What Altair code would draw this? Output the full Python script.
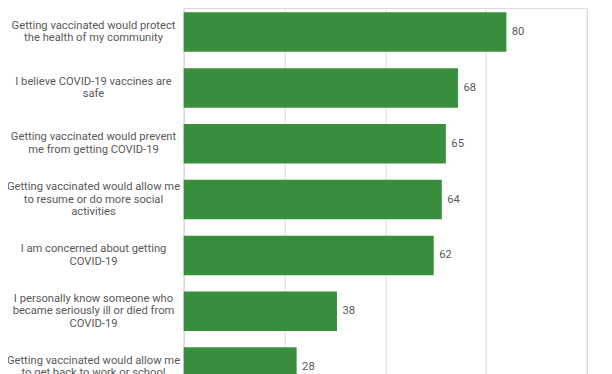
import altair as alt
import pandas as pd

categories = [
    "Getting vaccinated would protect|the health of my community",
    "I believe COVID-19 vaccines are|safe",
    "Getting vaccinated would prevent|me from getting COVID-19",
    "Getting vaccinated would allow me|to resume or do more social|activities",
    "I am concerned about getting|COVID-19",
    "I personally know someone who|became seriously ill or died from|COVID-19",
    "Getting vaccinated would allow me|to get back to work or school",
]
values = [80, 68, 65, 64, 62, 38, 28]
grid_ticks = [0, 25, 50, 75, 100]

df = pd.DataFrame({"reason": categories, "pct": values})

GREEN = "#388e3c"
GRAY_TEXT = "#595959"
GRID = "#d9d9d9"
LINE_H = 12.6

n_lines = "length(split(datum.label, '|'))"

y_enc = alt.Y(
    "reason:N",
    sort=categories,
    title=None,
    scale=alt.Scale(paddingInner=0.2925, paddingOuter=0.077),
    axis=alt.Axis(
        labelExpr="split(datum.label, '|')",
        labelAlign="center",
        labelBaseline="middle",
        labelPadding=90.7,
        labelFont="Roboto",
        labelFontSize=11.2,
        labelColor=GRAY_TEXT,
        labelLineHeight=LINE_H,
        labelLimit=400,
        labelOffset={
            "condition": [
                {"test": f"{n_lines} == 3", "value": -LINE_H},
                {"test": f"{n_lines} == 2", "value": -LINE_H / 2},
            ],
            "value": 0,
        },
        ticks=False,
        tickSize=0,
        domain=True,
        domainColor=GRID,
        domainWidth=1,
        grid=False,
    ),
)

x_enc = alt.X(
    "pct:Q",
    title=None,
    scale=alt.Scale(domain=[0, 100], nice=False),
    axis=alt.Axis(
        values=grid_ticks,
        grid=True,
        gridColor=GRID,
        gridWidth=1,
        labels=False,
        ticks=False,
        domain=False,
    ),
)

bars = alt.Chart(df).mark_bar(color=GREEN).encode(x=x_enc, y=y_enc)

text = alt.Chart(df).mark_text(
    align="left", baseline="middle", dx=5.5, font="Roboto", fontSize=11.2, color=GRAY_TEXT
).encode(x="pct:Q", y=alt.Y("reason:N", sort=categories), text="pct:Q")

chart = (
    alt.layer(bars, text)
    .properties(
        width=403.3,
        height=383.1,
        autosize=alt.AutoSizeParams(type="none"),
        padding={"left": 175.7, "top": 0, "right": 17, "bottom": -17},
    )
    .configure_view(stroke=None)
    .configure(background="white")
)

chart.save("out.html", embed_options={"renderer": "svg", "actions": False})
